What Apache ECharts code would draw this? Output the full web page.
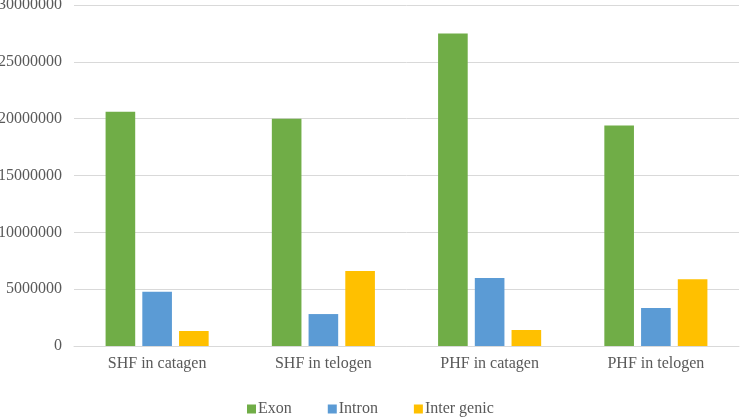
<!DOCTYPE html>
<html><head><meta charset="utf-8">
<script src="https://cdn.jsdelivr.net/npm/echarts@6/dist/echarts.min.js"></script>
<style>html,body{margin:0;padding:0;background:#fff}#c{width:740px;height:417px}</style>
</head><body><div id="c"></div>
<script>
const categories = ["SHF in catagen", "SHF in telogen", "PHF in catagen", "PHF in telogen"];
const exon = [20600000, 20000000, 27500000, 19400000];
const intron = [4780000, 2810000, 5980000, 3340000];
const intergenic = [1320000, 6600000, 1410000, 5870000];
const seriesNames = ["Exon", "Intron", "Inter genic"];
const yTicks = [0, 5000000, 10000000, 15000000, 20000000, 25000000, 30000000];

const font = '"Liberation Serif", "Times New Roman", serif';
const chart = echarts.init(document.getElementById('c'), null, {renderer: 'canvas'});
chart.setOption({
  animation: false,
  backgroundColor: '#fff',
  textStyle: {fontFamily: font},
  color: ['#70AD47', '#5B9BD5', '#FFC000'],
  grid: {left: 74, right: 1, top: 5, bottom: 71, containLabel: false, outerBoundsMode: 'none'},
  legend: {
    top: 401, left: 247, padding: 0, itemWidth: 9, itemHeight: 9, itemGap: 36, icon: 'rect',
    textStyle: {fontFamily: font, fontSize: 16, color: '#595959', padding: [0, 0, 0, -3]},
    data: seriesNames
  },
  xAxis: {
    type: 'category', data: categories,
    axisLine: {lineStyle: {color: '#d9d9d9'}}, axisTick: {show: false},
    axisLabel: {fontFamily: font, fontSize: 16, color: '#595959', margin: 10}
  },
  yAxis: {
    type: 'value', min: yTicks[0], max: yTicks[yTicks.length - 1], interval: 5000000,
    axisLine: {show: false}, axisTick: {show: false},
    splitLine: {lineStyle: {color: '#d9d9d9'}},
    axisLabel: {fontFamily: font, fontSize: 16, color: '#595959', margin: 12,
      formatter: v => String(v)}
  },
  series: [
    {name: seriesNames[0], type: 'bar', data: exon, barGap: '24%', barCategoryGap: '38%'},
    {name: seriesNames[1], type: 'bar', data: intron},
    {name: seriesNames[2], type: 'bar', data: intergenic}
  ]
});
</script></body></html>
